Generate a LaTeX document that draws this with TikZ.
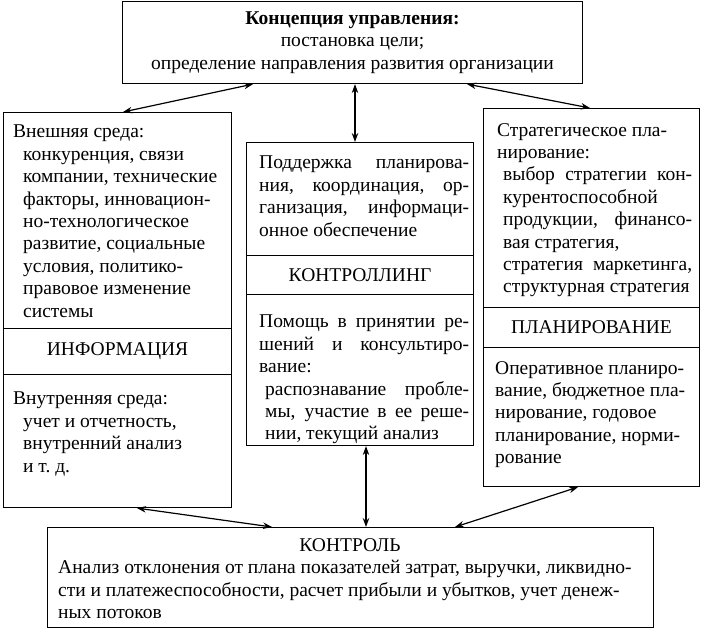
\documentclass[tikz,border=0pt]{standalone}
\usepackage{fontspec}
\setmainfont{Liberation Serif}
\usetikzlibrary{arrows.meta}
\newcommand{\indt}{\hspace*{10pt}}
\newcommand{\bodyfont}{\fontsize{19.5}{22.4}\selectfont}
\tikzset{
  block/.style={draw, line width=1.1pt, anchor=north west, inner sep=0pt},
  body/.style={anchor=north west, inner sep=0pt, align=left, font=\bodyfont},
  just/.style={body, align=justify, text width=#1, execute at begin node={\setlength{\parindent}{0pt}}},
  title/.style={inner sep=0pt, font=\bodyfont},
  link/.style={{Stealth[length=9pt,width=6.5pt]}-{Stealth[length=9pt,width=6.5pt]}, line width=1.2pt}
}
\begin{document}
\begin{tikzpicture}[x=1pt,y=-1pt]
        \useasboundingbox (0,0) rectangle (701,629);
        % top
        \node[block, minimum width=460pt, minimum height=82pt] (concept) at (122,1) {};
        \node[title, align=center] (conceptT) at (concept.center) {\textbf{Концепция управления:}\\постановка цели;\\определение направления развития организации};
        % left column
        \node[block, minimum width=228pt, minimum height=216pt] (ext) at (3,112) {};
        \node[block, minimum width=228pt, minimum height=46pt] (info) at (3,328) {};
        \node[block, minimum width=228pt, minimum height=133pt] (int) at (3,374) {};
        \node[body] (extT) at (13,125) {Внешняя среда:\\
            \indt конкуренция, связи\\
            \indt компании, технические\\
            \indt факторы, инновацион-\\
            \indt но-технологическое\\
            \indt развитие, социальные\\
            \indt условия, политико-\\
            \indt правовое изменение\\
            \indt системы};
        \node[title] (infoT) at (info.center) {ИНФОРМАЦИЯ};
        \node[body] (intT) at (13,392) {Внутренняя среда:\\
            \indt учет и отчетность,\\
            \indt внутренний анализ\\
            \indt и т.~д.};
        % middle column
        \node[block, minimum width=227pt, minimum height=113pt] (supp) at (246,142) {};
        \node[block, minimum width=227pt, minimum height=39pt] (ctrl) at (246,255) {};
        \node[block, minimum width=227pt, minimum height=151pt] (help) at (246,294) {};
        \node[just=210pt] (suppT) at (259,156) {Поддержка планирова-\linebreak
            ния, координация, ор-\linebreak
            ганизация, информаци-\linebreak
            онное обеспечение};
        \node[title] (ctrlT) at (ctrl.center) {КОНТРОЛЛИНГ};
        \node[just=210pt] (helpT) at (259,315) {Помощь в принятии ре-\linebreak
            шений и консультиро-\linebreak
            вание:\par
            \hspace*{6pt}распознавание пробле-\linebreak
            \hspace*{6pt}мы, участие в ее реше-\linebreak
            \hspace*{6pt}нии, текущий анализ};
        % right column
        \node[block, minimum width=216pt, minimum height=199pt] (strat) at (483,108) {};
        \node[block, minimum width=216pt, minimum height=40pt] (plan) at (483,307) {};
        \node[block, minimum width=216pt, minimum height=139pt] (oper) at (483,347) {};
        \node[just=195pt] (stratT) at (497,123) {Стратегическое пла-\par
            нирование:\par
            \hspace*{6pt}выбор стратегии кон-\linebreak
            \hspace*{6pt}курентоспособной\par
            \hspace*{6pt}продукции, финансо-\linebreak
            \hspace*{6pt}вая стратегия,\par
            \hspace*{6pt}стратегия маркетинга,\linebreak
            \hspace*{6pt}структурная стратегия};
        \node[title] (planT) at (plan.center) {ПЛАНИРОВАНИЕ};
        \node[body] (operT) at (495,361) {Оперативное планиро-\\
            вание, бюджетное пла-\\
            нирование, годовое\\
            планирование, норми-\\
            рование};
        % bottom
        \node[block, minimum width=606pt, minimum height=100pt] (check) at (47,527) {};
        \node[title] (checkT) at (350,545) {КОНТРОЛЬ};
        \node[body, font=\fontsize{19.5}{22.6}\selectfont] (checkB) at (58,560) {Анализ отклонения от плана показателей затрат, выручки, ликвидно-\\
            сти и платежеспособности, расчет прибыли и убытков, учет денеж-\\
            ных потоков};
        % links
        \draw[link] ([xshift=131pt]concept.south west) -- ([xshift=120pt]ext.north west);
        \draw[link] ([xshift=233pt]concept.south west) -- ([xshift=109pt]supp.north west);
        \draw[link] ([xshift=345pt]concept.south west) -- ([xshift=107pt]strat.north west);
        \draw[link] ([xshift=134pt]int.south west) -- ([xshift=225pt]check.north west);
        \draw[link] ([xshift=120pt]help.south west) -- ([xshift=319pt]check.north west);
        \draw[link] ([xshift=95pt]oper.south west) -- ([xshift=408pt]check.north west);
\end{tikzpicture}
\end{document}
